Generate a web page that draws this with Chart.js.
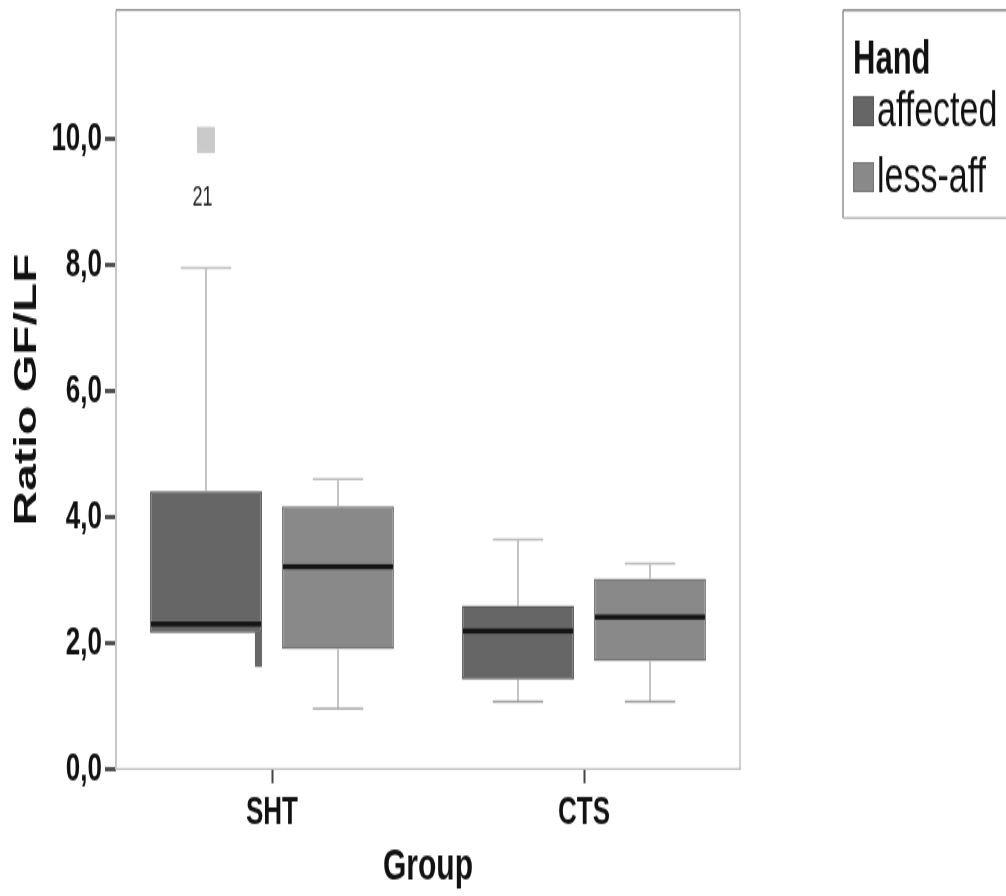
<!DOCTYPE html>
<html>
<head>
<meta charset="utf-8">
<script src="https://cdn.jsdelivr.net/npm/chart.js@4.4.0/dist/chart.umd.min.js"></script>
<style>
  html, body { margin: 0; padding: 0; background: #fff; }
  #chart { display: block; }
</style>
</head>
<body>
<!-- the original figure is stretched vertically, so the canvas is stretched too -->
<canvas id="chart" width="1006" height="597" style="width:1006px;height:896px"></canvas>
<script>
const categories = ['SHT', 'CTS'];
const yTicks = [0, 2, 4, 6, 8, 10];

// affected hand
const affQ1 = [2.16, 1.42];
const affQ3 = [4.41, 2.59];
const affMedian = [2.30, 2.19];
const affLow = [null, 1.07];
const affHigh = [7.95, 3.64];
const affStub = [1.62, null];      // odd lower stub on the SHT box
const affOutliers = [[9.98], []];
const affOutlierIds = [['21'], []];

// less-affected hand
const lessQ1 = [1.90, 1.71];
const lessQ3 = [4.17, 3.02];
const lessMedian = [3.21, 2.41];
const lessLow = [0.96, 1.07];
const lessHigh = [4.60, 3.26];

Chart.defaults.font.family = '"Liberation Sans", Arial, sans-serif';

const boxExtras = {
    id: 'boxExtras',
    beforeDatasetsDraw(chart) {
        const ctx = chart.ctx, y = chart.scales.y;
        chart.data.datasets.forEach((ds, di) => {
            chart.getDatasetMeta(di).data.forEach((bar, i) => {
                const capW = bar.width * 0.45;
                [[ds.high[i], ds.q3[i], '#bdbdbd'], [ds.low[i], ds.q1[i], '#9a9a9a']].forEach(([w, edge, capColor]) => {
                    if (w == null) return;
                    const yw = y.getPixelForValue(w), ye = y.getPixelForValue(edge);
                    ctx.save();
                    ctx.strokeStyle = '#c4c4c4';
                    ctx.lineWidth = 2;
                    ctx.beginPath(); ctx.moveTo(bar.x, yw); ctx.lineTo(bar.x, ye); ctx.stroke();
                    ctx.strokeStyle = capColor;
                    ctx.lineWidth = 1.4;
                    ctx.beginPath(); ctx.moveTo(bar.x - capW / 2, yw); ctx.lineTo(bar.x + capW / 2, yw); ctx.stroke();
                    ctx.restore();
                });
            });
        });
    },
    afterDatasetsDraw(chart) {
        const ctx = chart.ctx, y = chart.scales.y;
        chart.data.datasets.forEach((ds, di) => {
            chart.getDatasetMeta(di).data.forEach((bar, i) => {
                const left = bar.x - bar.width / 2;
                ctx.save();
                if (ds.stub && ds.stub[i] != null) {
                    const y1 = y.getPixelForValue(ds.q1[i]), y2 = y.getPixelForValue(ds.stub[i]);
                    ctx.fillStyle = ds.backgroundColor;
                    ctx.fillRect(left + bar.width - 7, y1 - 1, 7, y2 - y1 + 1);
                }
                const ym = y.getPixelForValue(ds.median[i]);
                ctx.fillStyle = '#151515';
                ctx.fillRect(left + 1, ym - 1.7, bar.width - 2, 3.4);
                if (ds.outliers) {
                    ds.outliers[i].forEach((v, k) => {
                        const yo = y.getPixelForValue(v);
                        ctx.fillStyle = '#cacaca';
                        ctx.fillRect(bar.x - 9, yo - 8.7, 18, 17.4);
                        ctx.fillStyle = '#222';
                        ctx.font = '18px "Liberation Sans", Arial, sans-serif';
                        ctx.textAlign = 'center';
                        ctx.textBaseline = 'middle';
                        ctx.fillText(ds.outlierIds[i][k], bar.x - 3.5, yo + 39);
                    });
                }
                ctx.restore();
            });
        });
    },
    afterDraw(chart) {
        const ctx = chart.ctx, a = chart.chartArea;
        ctx.save();
        // plot frame
        ctx.lineWidth = 2;
        ctx.strokeStyle = '#c6c6c6';
        ctx.beginPath(); ctx.moveTo(a.left, a.top); ctx.lineTo(a.left, a.bottom); ctx.stroke();
        ctx.strokeStyle = '#d0d0d0';
        ctx.beginPath(); ctx.moveTo(a.right, a.top); ctx.lineTo(a.right, a.bottom); ctx.stroke();
        ctx.lineWidth = 1.4;
        ctx.strokeStyle = '#8a8a8a';
        ctx.beginPath(); ctx.moveTo(a.left, a.top); ctx.lineTo(a.right, a.top); ctx.stroke();
        ctx.strokeStyle = '#bdbdbd';
        ctx.beginPath(); ctx.moveTo(a.left - 1, a.bottom); ctx.lineTo(a.right + 1, a.bottom); ctx.stroke();

        // legend
        const lx = 843, ly = 6.7, lb = 145.3;
        ctx.lineWidth = 2;
        ctx.strokeStyle = '#ababab';
        ctx.beginPath(); ctx.moveTo(lx, ly); ctx.lineTo(lx, lb); ctx.stroke();
        ctx.lineWidth = 1.4;
        ctx.strokeStyle = '#8a8a8a';
        ctx.beginPath(); ctx.moveTo(lx, ly); ctx.lineTo(1006, ly); ctx.stroke();
        ctx.strokeStyle = '#bbbbbb';
        ctx.beginPath(); ctx.moveTo(lx, lb); ctx.lineTo(1006, lb); ctx.stroke();

        ctx.fillStyle = '#111';
        ctx.textBaseline = 'alphabetic';
        ctx.textAlign = 'left';
        ctx.font = 'bold 31px "Liberation Sans", Arial, sans-serif';
        ctx.fillText('Hand', 853, 48.7);
        ctx.font = '34px "Liberation Sans", Arial, sans-serif';
        chart.data.datasets.forEach((ds, di) => {
            const base = 84 + di * 44;
            ctx.fillStyle = ds.backgroundColor;
            ctx.fillRect(853, base - 20, 21, 20);
            ctx.strokeStyle = ds.borderColor;
            ctx.lineWidth = 1;
            ctx.strokeRect(853.5, base - 19.5, 20, 19);
            ctx.fillStyle = '#111';
            ctx.fillText(ds.label, 877, base);
        });
        ctx.restore();
    }
};

new Chart(document.getElementById('chart'), {
    type: 'bar',
    data: {
        labels: categories,
        datasets: [{
            label: 'affected',
            data: categories.map((c, i) => [affQ1[i], affQ3[i]]),
            q1: affQ1, q3: affQ3, median: affMedian, low: affLow, high: affHigh,
            stub: affStub, outliers: affOutliers, outlierIds: affOutlierIds,
            backgroundColor: '#666666',
            borderColor: '#575757',
            borderWidth: 1.5,
            borderSkipped: false
        }, {
            label: 'less-aff',
            data: categories.map((c, i) => [lessQ1[i], lessQ3[i]]),
            q1: lessQ1, q3: lessQ3, median: lessMedian, low: lessLow, high: lessHigh,
            backgroundColor: '#898989',
            borderColor: '#767676',
            borderWidth: 1.5,
            borderSkipped: false
        }]
    },
    options: {
        responsive: false,
        animation: false,
        devicePixelRatio: 1,
        categoryPercentage: 0.846,
        barPercentage: 0.848,
        layout: { padding: { left: 0, right: 266, top: 6.66, bottom: 0 } },
        plugins: {
            legend: { display: false },
            tooltip: { enabled: false }
        },
        scales: {
            x: {
                offset: true,
                grid: { offset: false, drawOnChartArea: false, tickLength: 9.5, tickWidth: 2, tickColor: '#444' },
                border: { display: false },
                ticks: { font: { size: 26, weight: 'bold' }, color: '#111', padding: 4, maxRotation: 0 },
                title: { display: true, text: 'Group', font: { size: 30, weight: 'bold' }, color: '#111', padding: { top: 0, bottom: 1 } },
                afterFit: function (s) { s.height = 84.6; s.paddingLeft = 0; s.paddingRight = 0; }
            },
            y: {
                min: 0,
                max: 12.04,
                afterBuildTicks: function (s) { s.ticks = yTicks.map(v => ({ value: v })); },
                grid: { drawOnChartArea: false, tickLength: 11, tickWidth: 2.7, tickColor: '#444' },
                border: { display: false },
                ticks: {
                    font: { size: 26, weight: 'bold' },
                    color: '#111',
                    padding: 3,
                    callback: function (v) { return Number(v).toFixed(1).replace('.', ','); }
                },
                title: { display: true, text: 'Ratio GF/LF', font: { size: 32, weight: 'bold' }, color: '#111', padding: { top: 8, bottom: 0 } },
                afterFit: function (s) { s.width = 116; s.paddingTop = 0; s.paddingBottom = 0; }
            }
        }
    },
    plugins: [boxExtras]
});
</script>
</body>
</html>
